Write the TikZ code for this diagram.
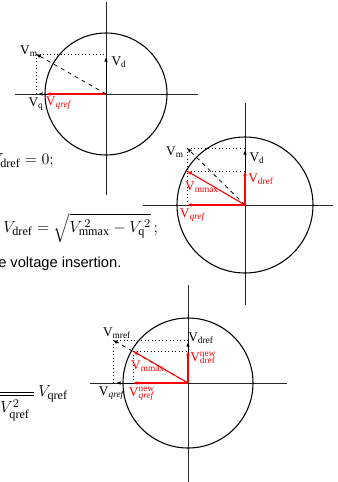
\documentclass[tikz,border=0pt]{standalone}
\usepackage{fontspec}
\usepackage{amsmath}
\setmainfont{Liberation Serif}
\newfontfamily\arialfont{Liberation Sans}
\usetikzlibrary{arrows.meta,positioning}
\definecolor{vred}{RGB}{255,0,0}
\newcommand{\Vsub}[1]{V\textsubscript{#1}}
\newcommand{\Vnew}[1]{V\rlap{\textsuperscript{new}}\textsubscript{#1}}

\begin{document}
\begin{tikzpicture}[
    x=0.75pt, y=-0.75pt,
    >={Latex[length=3.5pt,width=2.8pt]},
    axis/.style={draw=black!85, line width=0.7pt},
    ring/.style={draw, line width=0.8pt},
    proj/.style={draw, dotted, line width=0.65pt},
    vec/.style={draw, ->, line width=0.7pt},
    refvec/.style={draw=vred, ->, line width=0.8pt},
    dvec/.style={draw, dashed, ->, line width=0.6pt},
    lab/.style={inner sep=0pt, font=\fontsize{10}{12}\selectfont},
    rlab/.style={lab, text=vred},
    eq/.style={inner sep=0pt, font=\fontsize{13}{16}\selectfont}
]
    \useasboundingbox (0,0) rectangle (338,482);
    \clip (0,0) rectangle (338,482);

    % first diagram: V_dref = 0
    \coordinate (O1) at (106,94);
    \coordinate (m1) at (36,54);
    \coordinate (d1) at (106,54);
    \coordinate (dt1) at (106,57);
    \coordinate (q1) at (36,94);
    \coordinate (qt1) at (38,94);
    \coordinate (qr1) at (46,94);
    \draw[axis] (15,94) -- (198,94);
    \draw[axis] (106,2) -- (106,195);
    \draw[ring] (O1) circle [radius=61];
    \draw[proj] (m1) -- (d1);
    \draw[proj] (m1) -- (q1);
    \draw[vec] (O1) -- (dt1);
    \draw[vec] (O1) -- (qt1);
    \draw[refvec] (O1) -- (qr1);
    \draw[dvec] (O1) -- (m1);
    \node[lab] (Lm1) at (29,51) {\Vsub{m}};
    \node[lab] (Ld1) at (119,62) {\Vsub{d}};
    \node[lab] (Lq1) at (36,104) {\Vsub{q}};
    \node[rlab] (Lqr1) at (59,103) {\Vsub{\textit{qref}}};

    % second diagram: limited by V_mmax
    \coordinate (O2) at (245,205);
    \coordinate (m2) at (187,148);
    \coordinate (d2) at (245,148);
    \coordinate (dt2) at (245,150);
    \coordinate (dr2) at (245,171);
    \coordinate (mm2) at (187,171);
    \coordinate (qr2) at (187,205);
    \draw[axis] (143,205) -- (333,205);
    \draw[axis] (245,103) -- (245,305);
    \draw[ring] (O2) circle [radius=68];
    \draw[proj] (m2) -- (d2);
    \draw[proj] (m2) -- (qr2);
    \draw[proj] (mm2) -- (dr2);
    \draw[vec] (O2) -- (dt2);
    \draw[dvec] (O2) -- (m2);
    \draw[refvec] (O2) -- (dr2);
    \draw[refvec] (O2) -- (mm2);
    \draw[refvec] (O2) -- (qr2);
    \node[lab] (Lm2) at (175,152) {\Vsub{m}};
    \node[lab] (Ld2) at (257,158) {\Vsub{d}};
    \node[rlab] (Ldr2) at (261,179) {\Vsub{dref}};
    \node[rlab] (Lmm2) at (202,187) {\Vsub{mmax}};
    \node[rlab] (Lqr2) at (193,215) {\Vsub{\textit{qref}}};

    % third diagram: new references
    \coordinate (O3) at (188,383);
    \coordinate (mr3) at (113,340);
    \coordinate (d3) at (188,340);
    \coordinate (dt3) at (188,342);
    \coordinate (dn3) at (188,351);
    \coordinate (mm3) at (133,351);
    \coordinate (qn3) at (133,383);
    \coordinate (qt3) at (116,383);
    \coordinate (q3) at (113,383);
    \draw[axis] (90,383) -- (287,383);
    \draw[axis] (188,285) -- (188,482);
    \draw[ring] (O3) circle [radius=65];
    \draw[proj] (mr3) -- (d3);
    \draw[proj] (mr3) -- (q3);
    \draw[proj] (mm3) -- (dn3);
    \draw[proj] (mm3) -- (qn3);
    \draw[vec] (O3) -- (dt3);
    \draw[vec] (O3) -- (qt3);
    \draw[dvec] (O3) -- (mr3);
    \draw[refvec] (O3) -- (dn3);
    \draw[refvec] (O3) -- (mm3);
    \draw[refvec] (O3) -- (qn3);
    \node[lab] (Lmr3) at (117,333) {\Vsub{mref}};
    \node[lab] (Ld3) at (201,338) {\Vsub{dref}};
    \node[rlab] (Ldn3) at (203,358) {\Vnew{dref}};
    \node[rlab] (Lmm3) at (148,366) {\Vsub{mmax}};
    \node[lab] (Lq3) at (112,393) {\Vsub{\textit{qref}}};
    \node[rlab] (Lqn3) at (142,394) {\Vnew{\textit{qref}}};

    % formulas and text on the left
    \node[eq, anchor=base east] (eqa) at (54,164) {$V_{\mathrm{dref}}=0;$};
    \node[eq, anchor=base west] (eqb) at (3,232) {$V_{\mathrm{dref}}=\sqrt{V_{\mathrm{mmax}}^{\,2}-V_{\mathrm{q}}^{\,2}}\,;$};
    \node[anchor=base west, inner sep=0pt, font=\arialfont\fontsize{11}{13}\selectfont] (txt) at (-2,267) {e voltage insertion.};
    \node[eq, anchor=base east] (eqc) at (68,396) {$\dfrac{}{\sqrt{V_{\mathrm{dref}}^{2}+V_{\mathrm{qref}}^{2}\;}}\,V_{\mathrm{qref}}$};
\end{tikzpicture}
\end{document}
